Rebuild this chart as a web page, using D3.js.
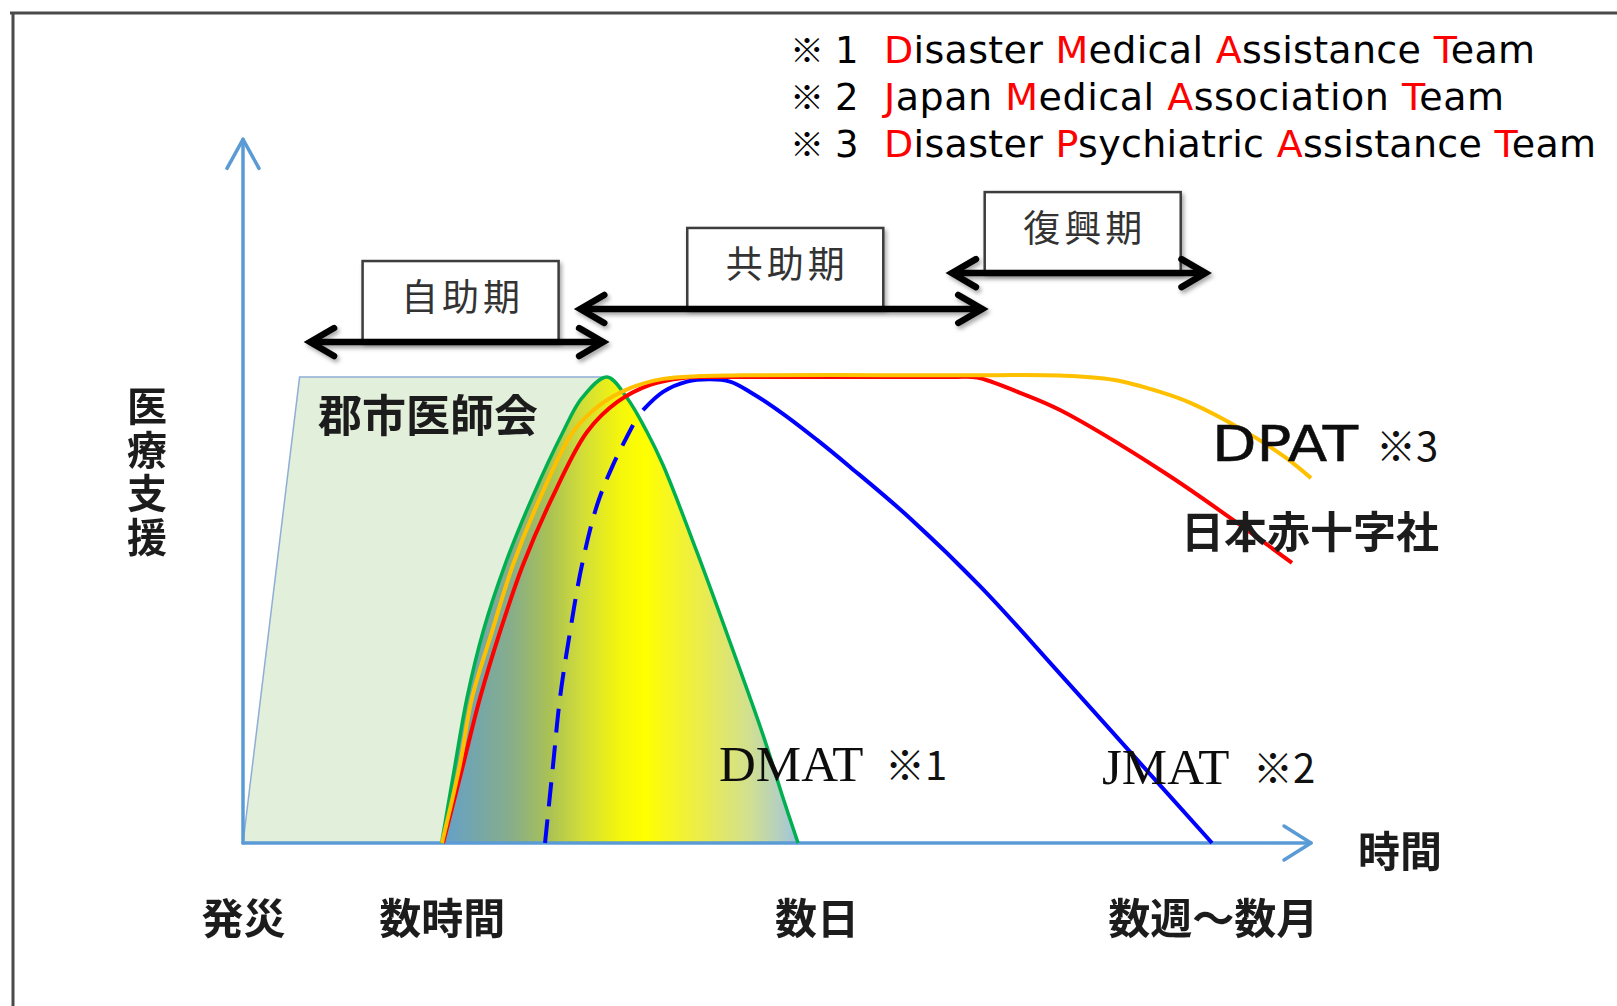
<!DOCTYPE html>
<html><head><meta charset="utf-8">
<script src="https://cdn.jsdelivr.net/npm/d3@7"></script>
<style>
body{margin:0;background:#fff}
svg{display:block}
</style>
</head><body>
<svg id="c" width="1617" height="1006"></svg>
<script>
// ---------------- data ----------------
// time axis: 0 = disaster, 100 = end of axis ; support axis: 0 = none, 100 = full plateau
const timeTicks = [0, 18.6, 53.7, 90.8];
const timeTickLabels = ["発災", "数時間", "数日", "数週～数月"];

const legendNums = ["1", "2", "3"];
const legendTerms = [
  ["Disaster", "Medical", "Assistance", "Team"],
  ["Japan", "Medical", "Association", "Team"],
  ["Disaster", "Psychiatric", "Assistance", "Team"]
];

const phaseNames = ["自助期", "共助期", "復興期"];
const phaseStart = [6.0, 31.3, 66.1];
const phaseEnd = [34.0, 69.5, 90.4];

// 郡市医師会 (local medical association)
const gunshiArea = [[0, 0], [5.3, 100], [34.1, 100], [34.8, 0]];
// DMAT bell
const dmatCurve = [[18.6, 0], [19.85, 16.7], [20.97, 31.1], [22.47, 45.3], [24.53, 59.7], [27.06, 74.0], [29.96, 88.2],
  [31.74, 95.5], [34.08, 100], [35.96, 95.5], [37.83, 88.2], [39.33, 81.1], [42.51, 62.4], [45.60, 43.1],
  [48.69, 23.2], [50.56, 9.7], [51.97, 0]];
// JMAT (dashed rising part, then solid)
const jmatDashed = [[28.28, 0], [29.03, 16.7], [29.68, 31.1], [30.62, 45.3], [31.74, 59.7], [33.15, 72.5], [34.64, 81.1], [36.52, 89.7]];
const jmatSolid = [[37.45, 92.9], [39.33, 96.8], [41.57, 99.0], [43.73, 99.5], [45.6, 99.0], [47.47, 96.8], [50.56, 92.1],
  [53.75, 86.5], [56.84, 80.7], [62.45, 69.7], [69.19, 54.7], [76.5, 36.3], [83.9, 17.4], [90.73, 0]];
// 日本赤十字社
const jrcCurve = [[18.73, 0], [20.6, 16.7], [22.19, 31.1], [24.06, 45.3], [26.22, 59.7], [28.93, 74.0], [32.21, 88.2],
  [35.02, 94.6], [38.11, 98.3], [41.2, 99.8], [43.73, 100], [50, 100], [60, 100], [66.5, 100], [68.73, 99.9],
  [72.75, 96.6], [76.5, 92.9], [86.33, 79.4], [93.63, 67.8], [98.22, 60.1]];
// DPAT
const dpatCurve = [[18.63, 0], [20.3, 16.7], [21.44, 31.1], [23.31, 45.3], [25.28, 59.7], [27.81, 74.0], [30.9, 88.2],
  [33.43, 94.0], [36.24, 97.6], [39.33, 99.6], [42.79, 100.2], [48, 100.4], [60, 100.4], [70, 100.4], [76.5, 100.3],
  [81.46, 99.4], [85.86, 96.8], [88.76, 94.4], [93.63, 88.6], [97.57, 82.8], [100, 78.3]];

// ---------------- layout ----------------
const svg = d3.select("#c");
const W = 1617, H = 1006;
const x = d3.scaleLinear().domain([0, 100]).range([243, 1311]);
const y = d3.scaleLinear().domain([0, 100]).range([843, 377]);
const JP = "'Noto Sans CJK JP','Noto Sans CJK SC',sans-serif";
const SANS = "'DejaVu Sans',sans-serif";
const AXIS = "#5b9bd5";

const defs = svg.append("defs");
const grad = defs.append("linearGradient").attr("id", "bellGrad")
  .attr("gradientUnits", "userSpaceOnUse")
  .attr("x1", x(18.6)).attr("x2", x(51.97)).attr("y1", 0).attr("y2", 0);
[[0, "#63a0ca"], [0.2, "#88ae88"], [0.3, "#a9c155"], [0.39, "#d0dc3a"], [0.5, "#f4f60c"], [0.57, "#ffff00"],
 [0.72, "#eced48"], [0.86, "#d2e08e"], [0.95, "#b3cfc2"], [1, "#9dc3de"]]
  .forEach(s => grad.append("stop").attr("offset", s[0]).attr("stop-color", s[1]));
const f = defs.append("filter").attr("id", "sh").attr("x", "-20%").attr("y", "-60%").attr("width", "140%").attr("height", "220%");
f.append("feDropShadow").attr("dx", 2).attr("dy", 3).attr("stdDeviation", 2).attr("flood-color", "#000").attr("flood-opacity", 0.35);
const ft = defs.append("filter").attr("id", "tsh").attr("x", "-10%").attr("y", "-20%").attr("width", "120%").attr("height", "140%");
ft.append("feGaussianBlur").attr("stdDeviation", 0.5);

// frame
svg.append("line").attr("x1", 10).attr("x2", W).attr("y1", 13).attr("y2", 13).attr("stroke", "#4a4a4a").attr("stroke-width", 3);
svg.append("line").attr("x1", 13).attr("x2", 13).attr("y1", 12).attr("y2", H).attr("stroke", "#4a4a4a").attr("stroke-width", 3);

// legend notes (one text block, one line per note)
const legTargets = [651, 620, 712];
const leg = svg.append("text").attr("font-size", 38).attr("fill", "#000").attr("font-family", SANS);
legendNums.forEach((n, i) => {
  const by = 63 + i * 47;
  leg.append("tspan").attr("x", 790).attr("y", by).attr("font-family", JP).attr("font-size", 34).text("※");
  leg.append("tspan").attr("x", 835).attr("y", by).attr("font-family", SANS).attr("font-size", 37).text(n);
  const parts = [];
  legendTerms[i].forEach((w, j) => {
    parts.push(leg.append("tspan").attr("fill", "#ff0000").attr("x", j === 0 ? 884 : null).attr("y", j === 0 ? by : null).text(w[0]));
    parts.push(leg.append("tspan").attr("fill", "#000").text(w.slice(1) + (j < legendTerms[i].length - 1 ? " " : "")));
  });
  let wsum = 0, nch = 0;
  parts.forEach(p => { wsum += p.node().getComputedTextLength(); nch += p.node().textContent.length; });
  const ls = ((legTargets[i] - wsum) / (nch - 1)).toFixed(2);
  parts.forEach(p => p.attr("letter-spacing", ls));
});

// 郡市医師会 area
svg.append("path").datum(gunshiArea)
  .attr("d", d3.line().x(d => x(d[0])).y(d => y(d[1])))
  .attr("fill", "#e2efda").attr("stroke", "#8eaed6").attr("stroke-width", 1.5);

const crv = d3.curveCatmullRom.alpha(0.5);
// DMAT bell
svg.append("path").datum(dmatCurve)
  .attr("d", d3.area().x(d => x(d[0])).y0(y(0)).y1(d => y(d[1])).curve(crv))
  .attr("fill", "url(#bellGrad)");

// axes
const axG = svg.append("g").attr("stroke", AXIS).attr("fill", "none").attr("stroke-width", 3.5).attr("stroke-linecap", "round").attr("stroke-linejoin", "round");
axG.append("line").attr("x1", x(0)).attr("x2", x(0)).attr("y1", y(0)).attr("y2", y(151));
axG.append("path").attr("d", `M${x(0) - 16},${y(151) + 29}L${x(0)},${y(151)}L${x(0) + 16},${y(151) + 29}`);
axG.append("line").attr("x1", x(0)).attr("x2", x(100)).attr("y1", y(0)).attr("y2", y(0));
axG.append("path").attr("d", `M${x(100) - 27},${y(0) - 17}L${x(100)},${y(0)}L${x(100) - 27},${y(0) + 17}`);

const ln = d3.line().x(d => x(d[0])).y(d => y(d[1])).curve(crv);
svg.append("path").datum(jmatDashed).attr("d", ln).attr("fill", "none").attr("stroke", "#0000ff").attr("stroke-width", 4).attr("stroke-dasharray", "24,13");
svg.append("path").datum(jmatSolid).attr("d", ln).attr("fill", "none").attr("stroke", "#0000ff").attr("stroke-width", 4);
// DMAT outline
svg.append("path").datum(dmatCurve).attr("d", ln)
  .attr("fill", "none").attr("stroke", "#00b050").attr("stroke-width", 3.5);
svg.append("path").datum(jrcCurve).attr("d", ln).attr("fill", "none").attr("stroke", "#ff0000").attr("stroke-width", 4);
svg.append("path").datum(dpatCurve).attr("d", ln).attr("fill", "none").attr("stroke", "#ffc000").attr("stroke-width", 4);

// phase boxes & double arrows
const phaseLevel = [107.5, 114.6, 122.3];
phaseNames.forEach((p, i) => {
  const ay = y(phaseLevel[i]);
  const x1 = x(phaseStart[i]), x2 = x(phaseEnd[i]);
  const cx = (x1 + x2) / 2 + 4;
  const g = svg.append("g");
  g.append("rect").attr("x", cx - 98).attr("y", ay - 81).attr("width", 196).attr("height", 80)
    .attr("fill", "#fff").attr("stroke", "#3c3c3c").attr("stroke-width", 2.5).attr("filter", "url(#sh)");
  g.append("text").attr("x", cx + 2).attr("y", ay - 47).attr("text-anchor", "middle").attr("dominant-baseline", "central")
    .attr("font-family", JP).attr("font-size", 37).attr("letter-spacing", 4).attr("fill", "#333").text(p);
  const a = g.append("g").attr("filter", "url(#sh)").attr("stroke", "#000").attr("fill", "none")
    .attr("stroke-width", 6.5).attr("stroke-linejoin", "miter").attr("stroke-linecap", "round");
  a.append("line").attr("x1", x1 + 4).attr("x2", x2 - 4).attr("y1", ay).attr("y2", ay);
  a.append("path").attr("d", `M${x1 + 27},${ay - 14}L${x1 + 3},${ay}L${x1 + 27},${ay + 14}`);
  a.append("path").attr("d", `M${x2 - 27},${ay - 14}L${x2 - 3},${ay}L${x2 - 27},${ay + 14}`);
});

// labels
const lab = svg.append("g").attr("font-family", JP).attr("fill", "#1e1e1e");
lab.append("text").attr("x", 318).attr("y", 413).attr("dominant-baseline", "central")
  .attr("font-size", 44).attr("font-weight", 700).attr("filter", "url(#tsh)").text("郡市医師会");
lab.append("text").attr("x", 147).attr("y", 386).style("writing-mode", "vertical-rl")
  .attr("font-size", 40).attr("font-weight", 700).attr("letter-spacing", 3.5).attr("filter", "url(#tsh)").text("医療支援");
lab.append("text").attr("x", 1358).attr("y", 848).attr("dominant-baseline", "central")
  .attr("font-size", 42).attr("font-weight", 700).attr("filter", "url(#tsh)").text("時間");
lab.append("text").attr("x", 1181).attr("y", 529).attr("dominant-baseline", "central")
  .attr("font-size", 43).attr("font-weight", 600).attr("filter", "url(#tsh)").text("日本赤十字社");

// team labels
const tl = svg.append("g").attr("fill", "#111");
tl.append("text").attr("x", 719).attr("y", 781).attr("font-family", "'Liberation Serif',serif").attr("font-size", 51).attr("filter", "url(#tsh)").text("DMAT");
tl.append("text").attr("x", 885).attr("y", 780).attr("font-family", JP).attr("font-size", 40).text("※1");
tl.append("text").attr("x", 1102).attr("y", 784).attr("font-family", "'Liberation Serif',serif").attr("font-size", 51).attr("filter", "url(#tsh)").text("JMAT");
tl.append("text").attr("x", 1253).attr("y", 783).attr("font-family", JP).attr("font-size", 40).text("※2");
tl.append("text").attr("x", 1212).attr("y", 461).attr("font-family", SANS).attr("font-size", 49)
  .attr("textLength", 146).attr("lengthAdjust", "spacingAndGlyphs")
  .attr("stroke", "#111").attr("stroke-width", 0.5).attr("filter", "url(#tsh)").text("DPAT");
tl.append("text").attr("x", 1376).attr("y", 461).attr("font-family", JP).attr("font-size", 40).text("※3");

// time tick labels via axis
const ax = svg.append("g").attr("transform", `translate(0,${915})`)
  .call(d3.axisBottom(x).tickValues(timeTicks).tickFormat((d, i) => timeTickLabels[i]).tickSize(0).tickPadding(0));
ax.select(".domain").remove();
ax.selectAll("text").attr("font-family", JP).attr("font-size", 42).attr("font-weight", 700)
  .attr("fill", "#1e1e1e").attr("dy", null).attr("dominant-baseline", "central").attr("filter", "url(#tsh)");
</script>
</body></html>
